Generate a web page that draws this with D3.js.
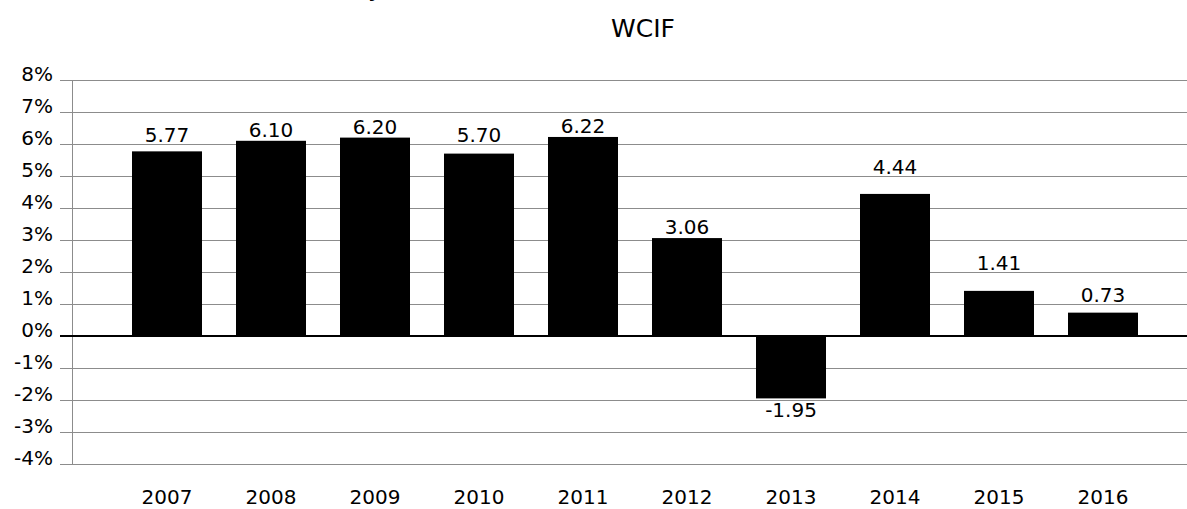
<!DOCTYPE html>
<html>
<head>
<meta charset="utf-8">
<script src="https://cdn.jsdelivr.net/npm/d3@7"></script>
<style>
  body { margin: 0; background: #fff; overflow: hidden; }
  text { font-family: "DejaVu Sans", Verdana, sans-serif; fill: #000; }
</style>
</head>
<body>
<div id="chart"></div>
<script>
// Data
const years = ["2007", "2008", "2009", "2010", "2011", "2012", "2013", "2014", "2015", "2016"];
const returns = [5.77, 6.10, 6.20, 5.70, 6.22, 3.06, -1.95, 4.44, 1.41, 0.73];
const yTicks = [-4, -3, -2, -1, 0, 1, 2, 3, 4, 5, 6, 7, 8];
const title = "WCIF";

const width = 1187;
const height = 509;

const svg = d3
  .select("#chart")
  .append("svg")
  .attr("width", width)
  .attr("height", height)
  .style("display", "block");

// Scales
const xScale = d3
  .scaleBand()
  .domain(years)
  .range([115, 1155])
  .paddingInner(0.327)
  .paddingOuter(0.1635);

const yScale = d3.scaleLinear().domain([-4, 8]).range([464, 80]);

// Gridlines + tick labels (axis anchored on the right so ticks run across)
const yAxis = svg
  .append("g")
  .attr("transform", `translate(${width}, 0)`)
  .call(
    d3
      .axisLeft(yScale)
      .tickValues(yTicks)
      .tickSize(width - 60)
      .tickPadding(7)
      .tickFormat((d) => d + "%")
  );
yAxis.select(".domain").remove();
yAxis.selectAll(".tick line").attr("stroke", "#8c8c8c").attr("stroke-width", 1);
yAxis
  .selectAll(".tick text")
  .attr("dy", "0")
  .attr("y", 0)
  .style("font-size", "20px")
  .style("font-family", '"DejaVu Sans", Verdana, sans-serif');

// Vertical axis line
svg
  .append("line")
  .attr("x1", 72.5)
  .attr("x2", 72.5)
  .attr("y1", yScale(8))
  .attr("y2", yScale(-4))
  .attr("stroke", "#8c8c8c")
  .attr("stroke-width", 1);

// Bars
svg
  .selectAll(".bar")
  .data(years)
  .enter()
  .append("rect")
  .attr("class", "bar")
  .attr("x", (d) => xScale(d))
  .attr("width", xScale.bandwidth())
  .attr("y", (d, i) => yScale(Math.max(0, returns[i])))
  .attr("height", (d, i) => Math.abs(yScale(returns[i]) - yScale(0)))
  .attr("fill", "#000");

// Zero line on top
svg
  .append("line")
  .attr("x1", 60)
  .attr("x2", width)
  .attr("y1", yScale(0))
  .attr("y2", yScale(0))
  .attr("stroke", "#000")
  .attr("stroke-width", 2);

// Value labels: keep them clear of the gridlines
function labelBaseline(v) {
  if (v < 0) return yScale(v) + 19;
  let base = yScale(v) - 4;
  yTicks.forEach((t) => {
    const gy = yScale(t);
    if (gy <= base && gy > base - 17) base = gy - 2;
  });
  return base;
}

svg
  .selectAll(".value-label")
  .data(years)
  .enter()
  .append("text")
  .attr("class", "value-label")
  .attr("x", (d) => xScale(d) + xScale.bandwidth() / 2)
  .attr("y", (d, i) => labelBaseline(returns[i]))
  .attr("text-anchor", "middle")
  .style("font-size", "20px")
  .text((d, i) => returns[i].toFixed(2));

// Year labels
const xAxis = svg
  .append("g")
  .attr("transform", "translate(0, 504)")
  .call(d3.axisBottom(xScale).tickSize(0).tickPadding(0));
xAxis.select(".domain").remove();
xAxis
  .selectAll(".tick text")
  .attr("y", 0)
  .attr("dy", "0")
  .style("font-size", "20px")
  .style("font-family", '"DejaVu Sans", Verdana, sans-serif');

// Title
svg
  .append("text")
  .attr("x", 643)
  .attr("y", 37)
  .attr("text-anchor", "middle")
  .style("font-size", "25px")
  .text(title);

// Tail of a heading line that sits just above the visible area
svg
  .append("text")
  .attr("x", 368)
  .attr("y", -4)
  .style("font-size", "25px")
  .text("y");
</script>
</body>
</html>
